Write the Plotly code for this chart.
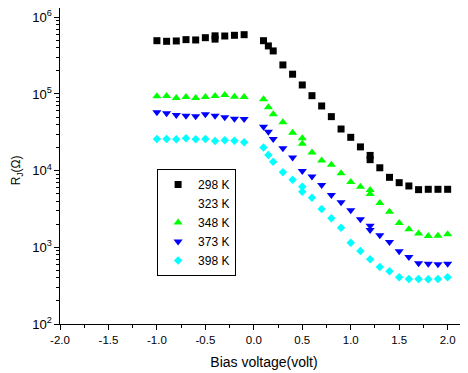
import plotly.graph_objects as go

# ---- data ----
x_298 = [-1.0, -0.9, -0.8, -0.7, -0.6, -0.5, -0.4, -0.4, -0.3, -0.2, -0.1,
         0.1, 0.15, 0.2, 0.3, 0.4, 0.5, 0.6, 0.7, 0.8, 0.9, 1.0, 1.1, 1.2, 1.2,
         1.3, 1.4, 1.5, 1.6, 1.7, 1.8, 1.9, 2.0]
y_298 = [4.95e5, 4.86e5, 4.91e5, 5.11e5, 5.06e5, 5.42e5, 5.73e5, 5.19e5, 5.70e5, 5.82e5, 5.93e5,
         4.95e5, 4.23e5, 3.64e5, 2.39e5, 1.81e5, 1.31e5, 9.5e4, 6.97e4, 5.06e4, 3.49e4,
         2.72e4, 2.04e4, 1.58e4, 1.39e4, 1.09e4, 8.18e3, 6.97e3, 6.31e3, 5.65e3, 5.71e3,
         5.71e3, 5.71e3]

x_348 = [-1.0, -0.9, -0.8, -0.7, -0.6, -0.5, -0.4, -0.3, -0.2, -0.1,
         0.1, 0.15, 0.2, 0.3, 0.4, 0.5, 0.5, 0.6, 0.7, 0.8, 0.9, 1.0, 1.1, 1.2, 1.2,
         1.3, 1.4, 1.5, 1.6, 1.7, 1.8, 1.9, 2.0]
y_348 = [9.33e4, 9.42e4, 8.87e4, 9.14e4, 8.87e4, 9.14e4, 9.42e4, 9.70e4, 9.23e4, 9.14e4,
         8.53e4, 6.70e4, 5.43e4, 4.28e4, 3.13e4, 2.64e4, 2.25e4, 1.73e4, 1.36e4, 1.19e4,
         9.25e3, 7.11e3, 6.18e3, 5.60e3, 4.97e3, 3.78e3, 2.92e3, 2.07e3, 1.72e3, 1.51e3,
         1.41e3, 1.42e3, 1.48e3]

x_373 = [-1.0, -0.9, -0.8, -0.7, -0.6, -0.5, -0.4, -0.3, -0.2, -0.1,
         0.1, 0.15, 0.2, 0.3, 0.4, 0.5, 0.6, 0.7, 0.8, 0.9, 1.0, 1.1, 1.2, 1.2,
         1.3, 1.4, 1.5, 1.6, 1.7, 1.8, 1.9, 2.0]
y_373 = [5.77e4, 5.60e4, 5.32e4, 5.21e4, 5.12e4, 5.43e4, 5.21e4, 4.97e4, 4.76e4, 4.72e4,
         3.74e4, 3.22e4, 2.59e4, 1.96e4, 1.48e4, 9.91e3, 8.36e3, 6.50e3, 4.82e3, 3.86e3,
         3.04e3, 2.32e3, 1.91e3, 1.68e3, 1.44e3, 1.17e3, 887, 748, 619, 611, 601, 611]

x_398 = [-1.0, -0.9, -0.8, -0.7, -0.6, -0.5, -0.4, -0.3, -0.2, -0.1,
         0.1, 0.15, 0.2, 0.3, 0.4, 0.5, 0.5, 0.6, 0.7, 0.8, 0.9, 1.0, 1.1, 1.2,
         1.3, 1.4, 1.5, 1.6, 1.7, 1.8, 1.9, 2.0]
y_398 = [2.59e4, 2.59e4, 2.56e4, 2.64e4, 2.56e4, 2.59e4, 2.44e4, 2.49e4, 2.46e4, 2.34e4,
         2.00e4, 1.60e4, 1.31e4, 9.53e3, 7.62e3, 6.18e3, 5.32e3, 4.44e3, 3.16e3, 2.39e3,
         1.80e3, 1.15e3, 895, 698, 553, 486, 406, 386, 386, 383, 386, 406]

x_tick_vals = [-2.0, -1.5, -1.0, -0.5, 0.0, 0.5, 1.0, 1.5, 2.0]
x_tick_text = ["-2.0", "-1.5", "-1.0", "-0.5", "0.0", "0.5", "1.0", "1.5", "2.0"]

FONT = "Liberation Sans, Arial, sans-serif"

fig = go.Figure()
fig.add_trace(go.Scatter(x=x_298, y=y_298, mode="markers", name="298 K",
                         marker=dict(symbol="square", size=7, color="black")))
fig.add_trace(go.Scatter(x=[None], y=[None], mode="markers", name="323 K",
                         marker=dict(symbol="square", size=7, color="rgba(0,0,0,0)")))
fig.add_trace(go.Scatter(x=x_348, y=y_348, mode="markers", name="348 K",
                         marker=dict(symbol="triangle-up", size=8, color="#00FF00")))
fig.add_trace(go.Scatter(x=x_373, y=y_373, mode="markers", name="373 K",
                         marker=dict(symbol="triangle-down", size=8, color="#0000FF")))
fig.add_trace(go.Scatter(x=x_398, y=y_398, mode="markers", name="398 K",
                         marker=dict(symbol="diamond", size=6.5, color="#00FFFF")))

# The page places the figure 8px in from the window's corner, so the figure is
# sized to fill the rest of the 468x373 window.
fig.update_layout(
    width=460, height=365,
    margin=dict(l=52, r=0, t=0, b=49, pad=0),
    paper_bgcolor="white", plot_bgcolor="white",
    font=dict(family=FONT, color="black", size=11.5),
    showlegend=True,
    legend=dict(x=0.238, y=0.4905, xanchor="left", yanchor="top",
                bordercolor="black", borderwidth=1, bgcolor="white",
                font=dict(family=FONT, size=12, color="black"),
                tracegroupgap=0),
    xaxis=dict(range=[-2.0, 2.21], showline=True, linecolor="black", linewidth=1,
               mirror=True, showgrid=False, zeroline=False,
               tickmode="array", tickvals=x_tick_vals, ticktext=x_tick_text,
               ticks="outside", ticklen=5, tickcolor="black",
               tickfont=dict(size=11.5),
               minor=dict(dtick=0.25, tick0=0, ticks="outside", ticklen=3, tickcolor="black"),
               title=dict(text="Bias voltage(volt)", font=dict(size=14), standoff=12)),
    yaxis=dict(type="log", range=[2, 6.121], showline=True, linecolor="black", linewidth=1,
               mirror=True, showgrid=False, zeroline=False,
               dtick=1, exponentformat="power",
               ticks="outside", ticklen=5, tickcolor="black",
               tickfont=dict(size=10.5),
               minor=dict(dtick="D1", ticks="outside", ticklen=3, tickcolor="black", showgrid=False)),
    annotations=[dict(text="R<sub>J</sub>(Ω)", textangle=-90, xref="paper", yref="paper",
                      x=-0.105, y=0.487, showarrow=False, font=dict(size=12),
                      xanchor="center", yanchor="middle")],
)

fig.write_html("out.html")
